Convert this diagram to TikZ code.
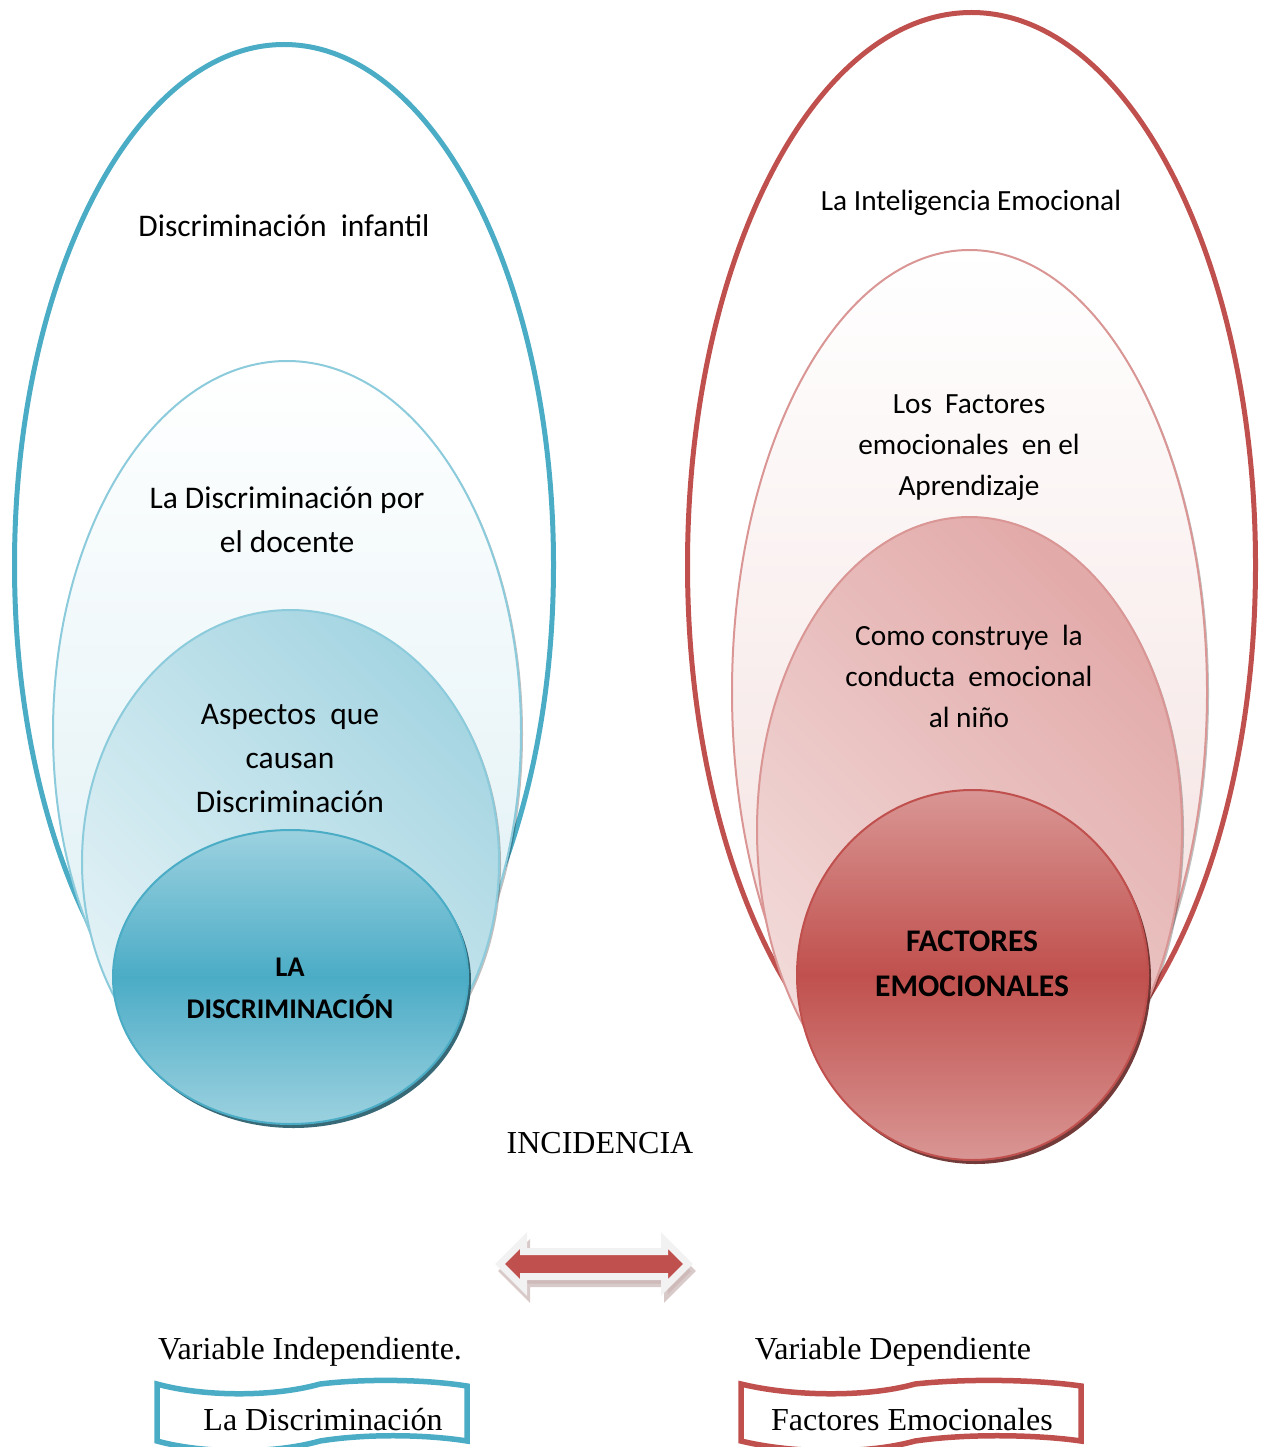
\documentclass[tikz,border=0pt]{standalone}
\usepackage{fontspec}
\setmainfont{Liberation Serif}
\newfontfamily\calibri{Carlito}
\usetikzlibrary{shapes.geometric,shapes.arrows,shadows}

\definecolor{azul}{HTML}{4BACC6}
\definecolor{azulclaro}{HTML}{DAEEF3}
\definecolor{azulmedio}{HTML}{A5D5E2}
\definecolor{azulborde}{HTML}{8CCBDB}
\definecolor{azulsombra}{HTML}{215968}
\definecolor{rojo}{HTML}{C0504D}
\definecolor{rojoclaro}{HTML}{F2DCDB}
\definecolor{rojomedio}{HTML}{E2AAA9}
\definecolor{rojoborde}{HTML}{D99694}
\definecolor{rojosombra}{HTML}{632523}
\definecolor{grisfl}{HTML}{F2F2F2}

\begin{document}
\begin{tikzpicture}[x=1pt,y=-1pt,
    anillo/.style={ellipse,inner sep=0pt},
    texto/.style={align=center,font=\calibri\fontsize{31.5}{44}\selectfont},
    textoder/.style={align=center,font=\calibri\fontsize{29.3}{41}\selectfont},
    serif/.style={font=\fontsize{32}{38}\selectfont}]
    \useasboundingbox (0,0) rectangle (1270,1447);

    % izquierda
    \node (L0) at (284,565) [anillo,draw=azul,line width=5pt,minimum width=539pt,minimum height=1041pt] {};
    \node (L1) at (287,732) [anillo,draw=azulborde,line width=2pt,minimum width=468pt,minimum height=742pt,
        top color=white,bottom color=azulclaro,drop shadow={fill=black,opacity=.25,shadow xshift=2pt,shadow yshift=-2pt}] {};
    \node (L2) at (290.5,862) [anillo,draw=azulborde,line width=2pt,minimum width=417pt,minimum height=504pt,
        top color=azulmedio,bottom color=azulclaro!70,shading angle=-45,drop shadow={fill=black,opacity=.25,shadow xshift=2pt,shadow yshift=-2pt}] {};
    \node (L3) at (290.5,977) [anillo,draw=azul,line width=2pt,minimum width=355pt,minimum height=294pt,
        top color=azul!55,bottom color=azul!55,middle color=azul,drop shadow={fill=azulsombra,opacity=.9,shadow xshift=3pt,shadow yshift=-4pt}] {};

    % derecha
    \node (R0) at (971.5,565) [anillo,draw=rojo,line width=5pt,minimum width=568pt,minimum height=1105pt] {};
    \node (R1) at (969.5,692) [anillo,draw=rojoborde,line width=2pt,minimum width=475pt,minimum height=884pt,
        top color=white,bottom color=rojoclaro,drop shadow={fill=black,opacity=.25,shadow xshift=2pt,shadow yshift=-2pt}] {};
    \node (R2) at (969.5,830) [anillo,draw=rojoborde,line width=2pt,minimum width=425pt,minimum height=626pt,
        top color=rojomedio,bottom color=rojoclaro,shading angle=-45,drop shadow={fill=black,opacity=.25,shadow xshift=2pt,shadow yshift=-2pt}] {};
    \node (R3) at (972.5,975) [anillo,draw=rojo,line width=2pt,minimum width=351pt,minimum height=370pt,
        top color=rojoborde,bottom color=rojoborde,middle color=rojo,drop shadow={fill=rojosombra,opacity=.9,shadow xshift=3pt,shadow yshift=-4pt}] {};

    % textos
    \node (tL0) at (284,226) [texto] {Discriminación\ \ infantil};
    \node (tL1) at (287,520) [texto] {La Discriminación por\\el docente};
    \node (tL2) at (290,759) [texto] {Aspectos\ \ que\\causan\\Discriminación};
    \node (tL3) at (290,988) [texto,font=\calibri\bfseries\fontsize{28.5}{42}\selectfont] {LA\\DISCRIMINACIÓN};
    \node (tR0) at (971,203) [textoder] {La Inteligencia Emocional};
    \node (tR1) at (969,448) [textoder] {Los\ \ Factores\\emocionales\ \ en el\\Aprendizaje};
    \node (tR2) at (969,676) [textoder] {Como construye\ \ la\\conducta\ \ emocional\\al niño};
    \node (tR3) at (972,964) [texto,font=\calibri\bfseries\fontsize{31.5}{45}\selectfont] {FACTORES\\EMOCIONALES};

    \node (inc) at (600,1143) [serif] {INCIDENCIA};
    \node (flecha) at (594,1264) [double arrow,fill=rojo,draw=grisfl,line width=7pt,inner sep=0pt,inner ysep=9pt,
        minimum height=188pt,minimum width=44pt,double arrow head extend=11pt,
        drop shadow={fill=rojosombra!35,draw=rojosombra!35,line width=7pt,opacity=.7,shadow xshift=3pt,shadow yshift=-7pt}] {};

    \node (vi) at (310,1352) [serif] {Variable Independiente.};
    \node (vd) at (893,1352) [serif] {Variable Dependiente};

    % cintas
    \draw[draw=azul,line width=5.5pt,fill=white] (157,1384) .. controls (200,1396) and (270,1398) .. (320,1384)
        .. controls (370,1378) and (430,1380) .. (467,1386) -- (467,1441)
        .. controls (430,1435) and (370,1433) .. (320,1441) .. controls (270,1455) and (200,1453) .. (157,1441) -- cycle;
    \draw[draw=rojo,line width=5.5pt,fill=white] (741,1384) .. controls (790,1396) and (865,1398) .. (915,1384)
        .. controls (970,1378) and (1040,1380) .. (1081,1386) -- (1081,1441)
        .. controls (1040,1435) and (970,1433) .. (915,1441) .. controls (865,1455) and (790,1453) .. (741,1441) -- cycle;
    \node (cL) at (323,1420) [serif] {La Discriminación};
    \node (cR) at (912,1420) [serif] {Factores Emocionales};

\end{tikzpicture}
\end{document}
